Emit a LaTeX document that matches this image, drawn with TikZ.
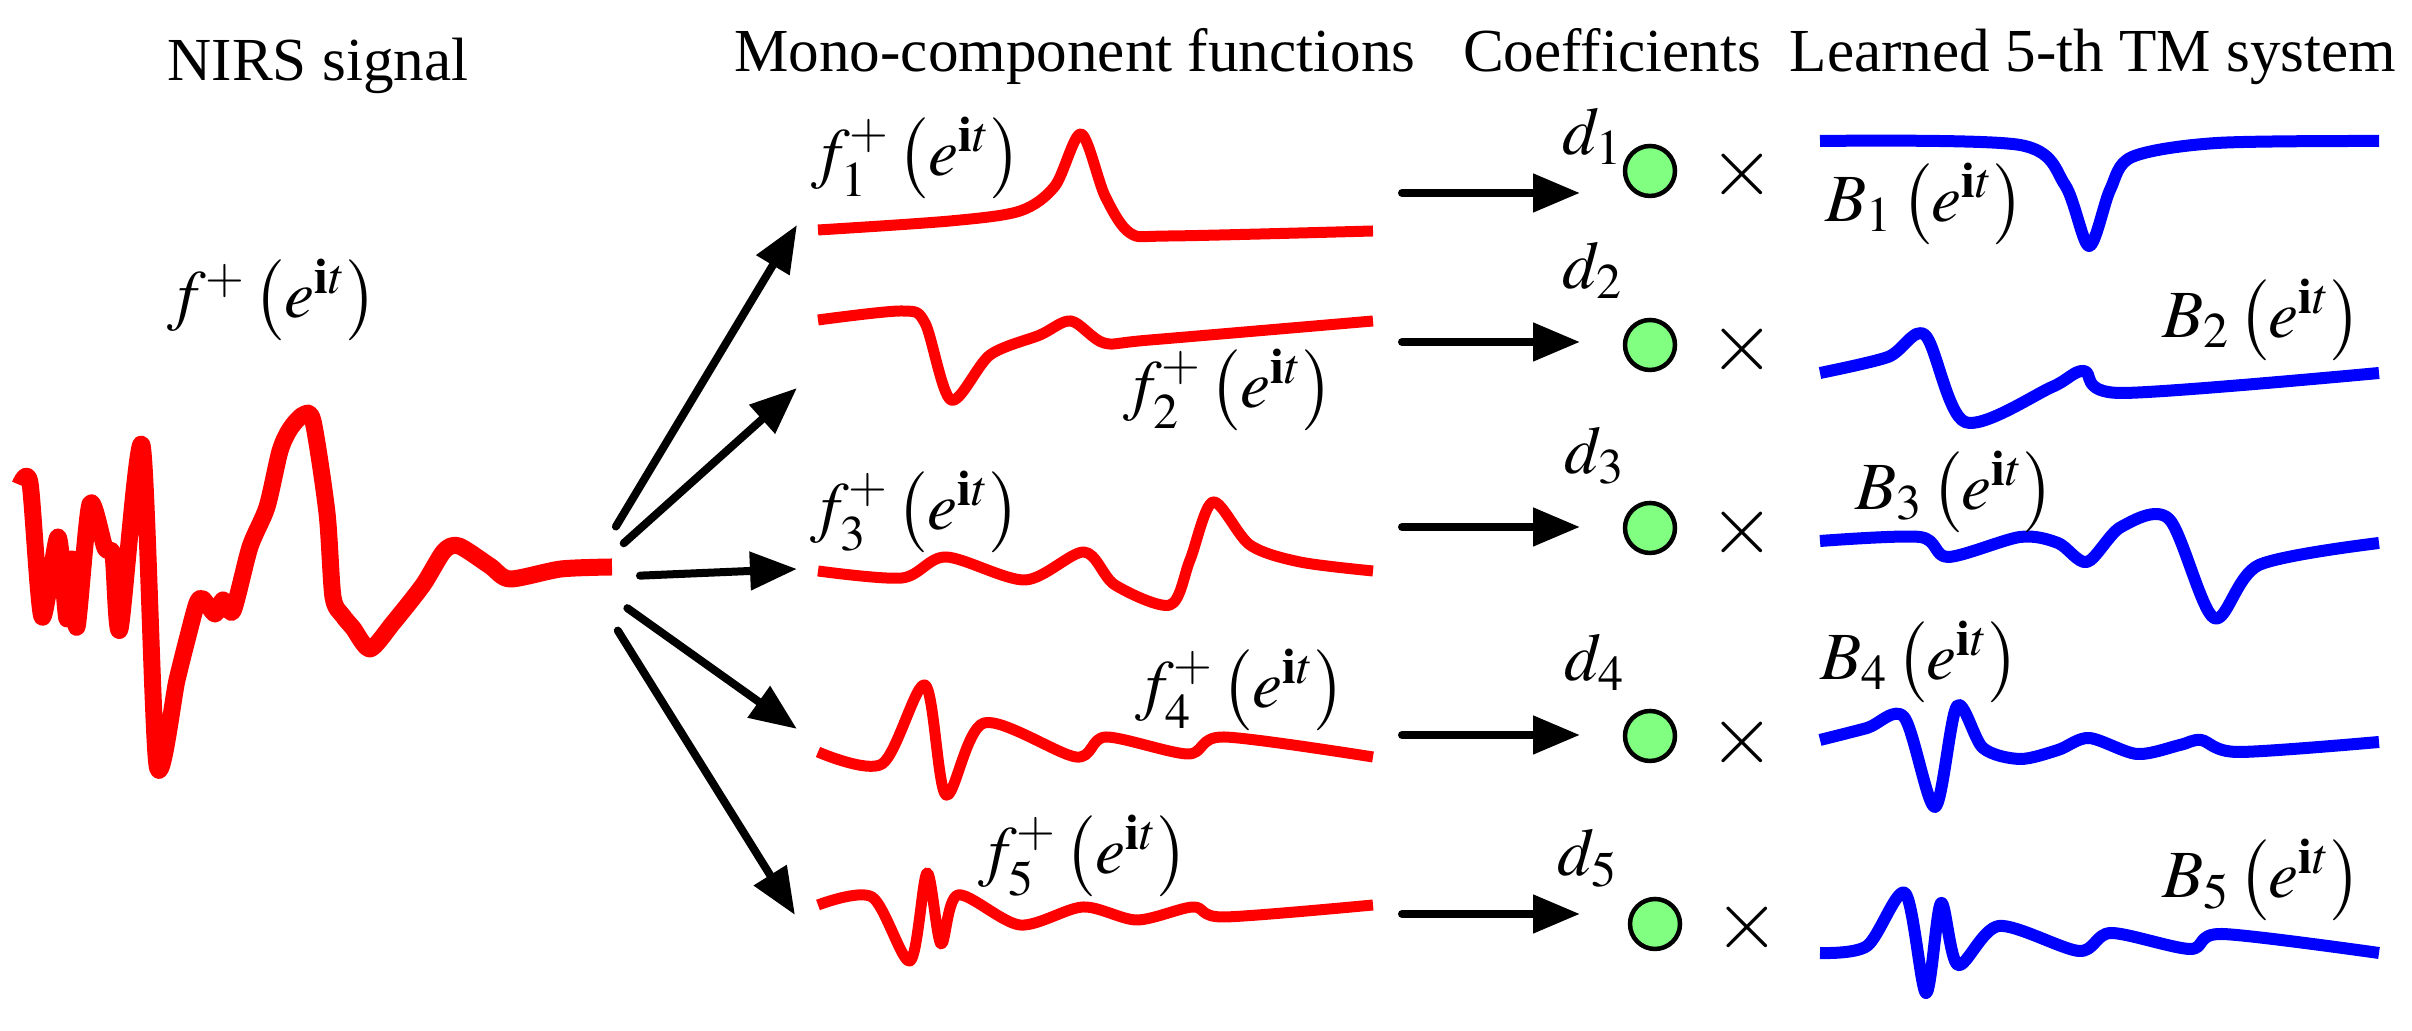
\documentclass[tikz,border=0pt]{standalone}
\usepackage{mathptmx}
\usepackage{fontspec}
\setmainfont{Liberation Serif}
\usepackage{tikz}
\usetikzlibrary{arrows.meta}

\definecolor{dotgreen}{RGB}{128,255,128}
\newcommand{\eit}{\bigl(e^{\mathbf{i}t}\bigr)}

\begin{document}
\begin{tikzpicture}[
    sig/.style = {red, line width=0.17cm, line join=round},
    mono/.style = {red, line width=0.11cm, line join=round},
    basis/.style = {blue, line width=0.12cm, line join=round},
    flow/.style = {line width=0.08cm, line cap=round,
      -{Triangle[length=0.47cm, width=0.37cm]}},
    coefdot/.style = {circle, draw, line width=0.045cm, fill=dotgreen,
      minimum size=0.5cm, inner sep=0pt},
    title/.style = {font=\rmfamily\fontsize{17.4}{20}\selectfont,
      anchor=base, inner sep=0pt},
    lbl/.style = {font=\fontsize{19.2}{22}\selectfont, inner sep=0pt},
    times/.style = {font=\fontsize{24}{24}\selectfont, inner sep=0pt}
  ]
    \useasboundingbox (0,0) rectangle (24.12,10.31);

    \def\tailx{14.02}
    \def\tipx{15.80}
    \def\dotx{16.50}
    \def\crossx{17.42}



    \node[title] (nirs) at (3.18,9.50) {NIRS signal};

    \node[title] (mono) at (10.75,9.59) {Mono-component functions};

    \node[title] (coef) at (16.12,9.59) {Coefficients};

    \node[title] (tmsys) at (20.93,9.59) {Learned 5-th TM system};



    \draw[sig] plot[smooth, tension=0.45] coordinates {(0.20,5.46)
      (0.30,5.48) (0.42,4.14) (0.58,4.94) (0.67,4.12) (0.72,4.72)
      (0.77,4.04) (0.90,5.27) (1.05,4.83) (1.13,4.76) (1.20,4.02)
      (1.42,5.86) (1.57,2.66) (1.77,3.51) (1.87,3.91) (1.97,4.28)
      (2.03,4.32) (2.15,4.17) (2.23,4.31) (2.33,4.20) (2.50,4.84)
      (2.67,5.24) (2.80,5.80) (2.90,6.02) (3.03,6.16) (3.13,6.10)
      (3.27,5.18) (3.33,4.34) (3.43,4.15) (3.53,4.03) (3.70,3.82)
      (3.93,4.08) (4.23,4.46) (4.44,4.80) (4.59,4.85) (4.90,4.65)
      (5.10,4.52) (5.61,4.62) (6.12,4.64)};

    \node[lbl] (fsig) at (2.72,7.31) {$f^{+}\,\eit$};



    \coordinate (hub) at (5.85,4.53);
    \coordinate (t1) at (7.97,8.06);
    \coordinate (t2) at (7.97,6.43);
    \coordinate (t3) at (7.97,4.62);
    \coordinate (t4) at (7.97,3.02);
    \coordinate (t5) at (7.95,1.16);

    \draw[flow, shorten <=0.6cm] (hub) -- (t1);
    \draw[flow, shorten <=0.52cm] (hub) -- (t2);
    \draw[flow, shorten <=0.55cm] (hub) -- (t3);
    \draw[flow, shorten <=0.52cm] (hub) -- (t4);
    \draw[flow, shorten <=0.62cm] (hub) -- (t5);



    \draw[mono] plot[smooth, tension=0.5] coordinates {(8.18,8.01)
      (9.50,8.10) (10.20,8.20) (10.55,8.45) (10.81,8.97) (11.05,8.35)
      (11.30,7.98) (11.70,7.95) (13.73,8.00)};

    \draw[mono] plot[smooth, tension=0.5] coordinates {(8.18,7.11)
      (9.02,7.20) (9.25,7.08) (9.51,6.31) (9.90,6.76) (10.40,6.96)
      (10.71,7.10) (11.04,6.88) (11.50,6.91) (13.73,7.10)};

    \draw[mono] plot[smooth, tension=0.5] coordinates {(8.18,4.60)
      (9.02,4.53) (9.46,4.74) (10.25,4.51) (10.84,4.79) (11.15,4.46)
      (11.70,4.26) (11.90,4.71) (12.13,5.29) (12.50,4.86) (13.00,4.69)
      (13.73,4.60)};

    \draw[mono] plot[smooth, tension=0.5] coordinates {(8.18,2.79)
      (8.82,2.67) (9.25,3.46) (9.46,2.36) (9.84,3.08) (10.76,2.74)
      (11.06,2.94) (11.88,2.77) (12.24,2.94) (13.73,2.74)};

    \draw[mono] plot[smooth, tension=0.5] coordinates {(8.18,1.26)
      (8.72,1.34) (9.10,0.70) (9.27,1.58) (9.41,0.87) (9.58,1.36)
      (10.20,1.06) (10.83,1.24) (11.37,1.11) (11.93,1.24) (12.24,1.14)
      (13.73,1.26)};

    \node[lbl] (f1) at (9.16,8.73) {$f_{1}^{+}\,\eit$};

    \node[lbl] (f2) at (12.28,6.41) {$f_{2}^{+}\,\eit$};

    \node[lbl] (f3) at (9.15,5.19) {$f_{3}^{+}\,\eit$};

    \node[lbl] (f4) at (12.40,3.41) {$f_{4}^{+}\,\eit$};

    \node[lbl] (f5) at (10.83,1.75) {$f_{5}^{+}\,\eit$};



    \coordinate (a1) at (\tailx,8.38);
    \coordinate (b1) at (\tipx,8.38);
    \coordinate (a2) at (\tailx,6.89);
    \coordinate (b2) at (\tipx,6.89);
    \coordinate (a3) at (\tailx,5.04);
    \coordinate (b3) at (\tipx,5.04);
    \coordinate (a4) at (\tailx,2.96);
    \coordinate (b4) at (\tipx,2.96);
    \coordinate (a5) at (\tailx,1.17);
    \coordinate (b5) at (\tipx,1.17);

    \draw[flow] (a1) -- (b1);
    \draw[flow] (a2) -- (b2);
    \draw[flow] (a3) -- (b3);
    \draw[flow] (a4) -- (b4);
    \draw[flow] (a5) -- (b5);



    \node[lbl] (d1) at (15.93,8.95) {$d_{1}$};
    \node[lbl] (d2) at (15.93,7.61) {$d_{2}$};
    \node[lbl] (d3) at (15.95,5.75) {$d_{3}$};
    \node[lbl] (d4) at (15.95,3.69) {$d_{4}$};
    \node[lbl] (d5) at (15.88,1.73) {$d_{5}$};

    \node[coefdot] (c1) at (\dotx,8.60) {};
    \node[coefdot] (c2) at (\dotx,6.86) {};
    \node[coefdot] (c3) at (\dotx,5.03) {};
    \node[coefdot] (c4) at (\dotx,2.95) {};
    \node[coefdot] (c5) at (16.55,1.07) {};

    \node[times] (x1) at (\crossx,8.57) {$\times$};
    \node[times] (x2) at (\crossx,6.82) {$\times$};
    \node[times] (x3) at (\crossx,4.99) {$\times$};
    \node[times] (x4) at (\crossx,2.89) {$\times$};
    \node[times] (x5) at (17.47,1.04) {$\times$};



    \draw[basis] plot[smooth, tension=0.5] coordinates {(18.20,8.90)
      (20.20,8.86) (20.65,8.46) (20.89,7.85) (21.10,8.41) (21.32,8.74)
      (22.17,8.88) (23.79,8.90)};

    \draw[basis] plot[smooth, tension=0.5] coordinates {(18.20,6.58)
      (18.88,6.74) (19.25,6.96) (19.65,6.09) (20.52,6.44) (20.84,6.60)
      (21.21,6.38) (23.79,6.58)};

    \draw[basis] plot[smooth, tension=0.5] coordinates {(18.20,4.90)
      (19.20,4.94) (19.48,4.74) (20.20,4.94) (20.58,4.88) (20.87,4.69)
      (21.21,5.04) (21.69,5.12) (22.14,4.13) (22.59,4.66) (23.79,4.88)};

    \draw[basis] plot[smooth, tension=0.5] coordinates {(18.20,2.91)
      (18.67,3.03) (19.04,3.14) (19.35,2.24) (19.57,3.25) (19.83,2.83)
      (20.20,2.72) (20.58,2.81) (20.89,2.93) (21.37,2.77) (21.80,2.86)
      (22.01,2.91) (22.38,2.79) (23.79,2.89)};

    \draw[basis] plot[smooth, tension=0.5] coordinates {(18.20,0.78)
      (18.67,0.85) (19.05,1.38) (19.26,0.38) (19.41,1.28) (19.58,0.66)
      (19.99,1.05) (20.79,0.80) (21.11,0.98) (21.90,0.82) (22.22,0.97)
      (23.79,0.78)};

    \node[lbl] (B1) at (19.25,8.27) {$B_{1}\,\eit$};

    \node[lbl] (B2) at (22.62,7.11) {$B_{2}\,\eit$};

    \node[lbl] (B3) at (19.55,5.39) {$B_{3}\,\eit$};

    \node[lbl] (B4) at (19.20,3.69) {$B_{4}\,\eit$};

    \node[lbl] (B5) at (22.62,1.51) {$B_{5}\,\eit$};
  \end{tikzpicture}
\end{document}
